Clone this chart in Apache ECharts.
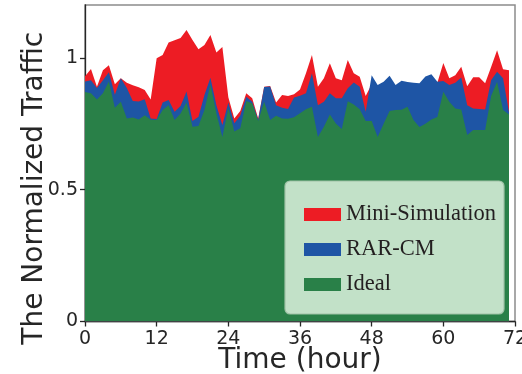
<!DOCTYPE html>
<html>
<head>
<meta charset="utf-8">
<script src="https://cdn.jsdelivr.net/npm/echarts@6/dist/echarts.min.js"></script>
<style>
  html, body { margin: 0; padding: 0; background: #fff; }
  #chart { width: 522px; height: 374px; }
</style>
</head>
<body>
<div id="chart"></div>
<script>
// Hourly normalized traffic over three days (hours 0..71)
const hours = [
  0, 1, 2, 3, 4, 5, 6, 7, 8, 9, 10, 11,
  12, 13, 14, 15, 16, 17, 18, 19, 20, 21, 22, 23,
  24, 25, 26, 27, 28, 29, 30, 31, 32, 33, 34, 35,
  36, 37, 38, 39, 40, 41, 42, 43, 44, 45, 46, 47,
  48, 49, 50, 51, 52, 53, 54, 55, 56, 57, 58, 59,
  60, 61, 62, 63, 64, 65, 66, 67, 68, 69, 70, 71
];

const miniSimulation = [
  0.930, 0.957, 0.890, 0.953, 0.972, 0.900, 0.922, 0.905, 0.896, 0.888, 0.878, 0.842,
  0.998, 1.010, 1.058, 1.066, 1.075, 1.105, 1.067, 1.032, 1.048, 1.086, 1.020, 1.041,
  0.850, 0.770, 0.798, 0.865, 0.846, 0.770, 0.890, 0.893, 0.830, 0.859, 0.855, 0.862,
  0.880, 0.941, 1.010, 0.890, 0.922, 0.979, 0.922, 0.915, 0.991, 0.941, 0.928, 0.855,
  0.900, 0.870, 0.880, 0.900, 0.870, 0.890, 0.880, 0.880, 0.880, 0.900, 0.910, 0.905,
  0.980, 0.922, 0.934, 0.966, 0.892, 0.926, 0.926, 0.903, 0.965, 1.028, 0.956, 0.953
];

const rarCm = [
  0.910, 0.915, 0.885, 0.915, 0.945, 0.860, 0.922, 0.885, 0.836, 0.834, 0.843, 0.770,
  0.768, 0.830, 0.840, 0.795, 0.817, 0.872, 0.760, 0.776, 0.859, 0.924, 0.820, 0.745,
  0.830, 0.752, 0.781, 0.852, 0.833, 0.765, 0.889, 0.891, 0.820, 0.810, 0.806, 0.849,
  0.856, 0.865, 0.941, 0.820, 0.833, 0.865, 0.846, 0.846, 0.884, 0.906, 0.890, 0.795,
  0.934, 0.897, 0.909, 0.932, 0.897, 0.913, 0.908, 0.905, 0.903, 0.929, 0.937, 0.909,
  0.912, 0.897, 0.905, 0.925, 0.820, 0.808, 0.806, 0.804, 0.915, 0.947, 0.922, 0.792
];

const ideal = [
  0.870, 0.865, 0.842, 0.865, 0.910, 0.810, 0.833, 0.770, 0.773, 0.766, 0.782, 0.765,
  0.764, 0.802, 0.820, 0.764, 0.789, 0.830, 0.738, 0.741, 0.802, 0.900, 0.790, 0.700,
  0.810, 0.720, 0.733, 0.836, 0.827, 0.760, 0.833, 0.764, 0.780, 0.770, 0.769, 0.774,
  0.790, 0.805, 0.814, 0.700, 0.738, 0.785, 0.751, 0.730, 0.835, 0.823, 0.805, 0.760,
  0.760, 0.700, 0.750, 0.798, 0.802, 0.803, 0.814, 0.764, 0.737, 0.750, 0.766, 0.775,
  0.871, 0.833, 0.808, 0.804, 0.707, 0.726, 0.726, 0.726, 0.855, 0.909, 0.802, 0.785
];

const xTicks = [0, 12, 24, 36, 48, 60, 72];
const yTicks = [0, 0.5, 1];

const seriesNames = ['Mini-Simulation', 'RAR-CM', 'Ideal'];
const seriesColors = ['#ed1c24', '#1e55a5', '#298048'];
const seriesValues = [miniSimulation, rarCm, ideal];

const pairs = vals => hours.map((h, i) => [h, vals[i]]);

const tickFont = { fontFamily: 'DejaVu Sans', fontSize: 19, color: '#262626' };
const nameFont = { fontFamily: 'DejaVu Sans', fontSize: 28, color: '#262626' };

const chart = echarts.init(document.getElementById('chart'), null, { renderer: 'canvas' });

chart.setOption({
  animation: false,
  backgroundColor: '#ffffff',
  grid: {
    left: 85, right: 7, top: 5, bottom: 52.5,
    outerBoundsMode: 'none',
    containLabel: false,
    show: true, borderColor: '#8c8c8c', borderWidth: 1.5,
    backgroundColor: 'transparent'
  },
  xAxis: {
    type: 'value', min: 0, max: 72, interval: 12,
    name: 'Time (hour)', nameLocation: 'middle', nameGap: 25,
    nameMoveOverlap: false,
    nameTextStyle: nameFont,
    axisLine: { show: true, onZero: false, lineStyle: { color: '#262626', width: 1.3 } },
    axisTick: { show: true, length: 5, customValues: xTicks, lineStyle: { color: '#262626', width: 1.3 } },
    axisLabel: Object.assign({ margin: 8, customValues: xTicks }, tickFont),
    splitLine: { show: false }
  },
  yAxis: {
    type: 'value', min: 0, max: 1.2,
    name: 'The Normalized Traffic', nameLocation: 'middle', nameGap: 36,
    nameMoveOverlap: false,
    // the title sits a little below the axis midpoint
    nameTextStyle: Object.assign({ padding: [0, 50, 0, 0] }, nameFont),
    axisLine: { show: true, onZero: false, lineStyle: { color: '#262626', width: 1.3 } },
    axisTick: { show: true, length: 5, customValues: yTicks, lineStyle: { color: '#262626', width: 1.3 } },
    axisLabel: Object.assign({ margin: 7, customValues: yTicks }, tickFont),
    splitLine: { show: false }
  },
  legend: {
    left: 285, top: 181,
    z: 20,
    orient: 'vertical',
    data: seriesNames,
    icon: 'rect',
    itemWidth: 37, itemHeight: 13, itemGap: 12,
    padding: [22, 8, 18, 19],
    backgroundColor: '#c2e1c8',
    borderColor: '#9fc2a6', borderWidth: 1.2, borderRadius: 5,
    textStyle: { fontFamily: 'Liberation Serif', fontSize: 22.5, color: '#231f20' }
  },
  series: seriesNames.map((name, i) => ({
    name: name,
    type: 'line',
    data: pairs(seriesValues[i]),
    showSymbol: false,
    symbol: 'none',
    lineStyle: { width: 0 },
    itemStyle: { color: seriesColors[i] },
    areaStyle: { color: seriesColors[i], opacity: 1 },
    z: 2
  }))
});
</script>
</body>
</html>
